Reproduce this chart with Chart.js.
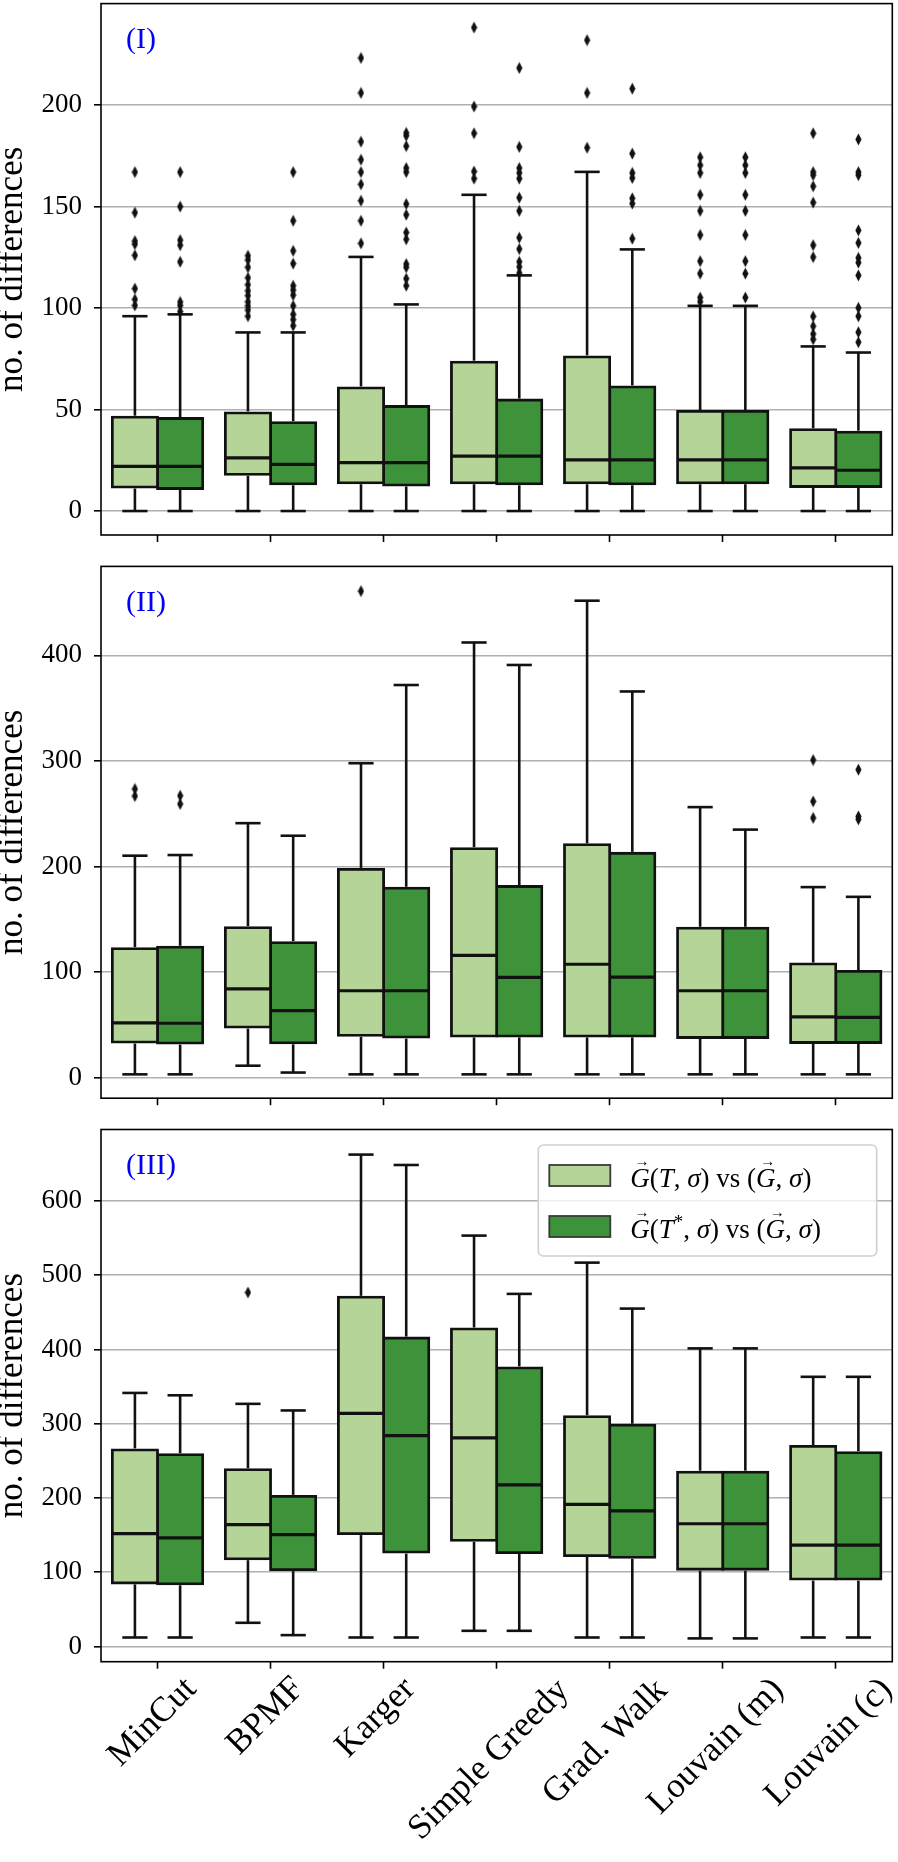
<!DOCTYPE html>
<html>
<head>
<meta charset="utf-8">
<title>no. of differences</title>
<script src="https://cdn.jsdelivr.net/npm/chart.js@4.4.0/dist/chart.umd.min.js"></script>
<style>
  html, body { margin: 0; padding: 0; background: #fff; }
  #wrap { position: relative; width: 898px; height: 1862px; overflow: hidden; }
  #wrap canvas { position: absolute; left: 0; }
</style>
</head>
<body>
<div id="wrap">
  <canvas id="panel-1" width="898" height="560" style="top:0px"></canvas>
  <canvas id="panel-2" width="898" height="560" style="top:560px"></canvas>
  <canvas id="panel-3" width="898" height="742" style="top:1120px"></canvas>
</div>
<script>
// --- DATA ---
const categories = ['MinCut', 'BPMF', 'Karger', 'Simple Greedy', 'Grad. Walk', 'Louvain (m)', 'Louvain (c)'];
const yTitle = 'no. of differences';

// box stats per category: [whisker low, q1, median, q3, whisker high]
const boxesI_T = [[0, 11.8, 22.0, 46.3, 96.0], [0, 18.1, 26.2, 48.4, 88], [0, 13.9, 23.9, 60.7, 125.2], [0, 13.9, 27.1, 73.4, 155.8], [0, 13.9, 25.2, 76.0, 167.1], [0, 13.9, 25.2, 49.1, 101.1], [0, 12.1, 21.3, 40.1, 81.1]];
const boxesI_Ts = [[0, 11.1, 22.0, 45.6, 96.9], [0, 13.4, 23.0, 43.6, 88], [0, 12.8, 23.9, 51.5, 101.8], [0, 13.4, 27.1, 54.7, 116.1], [0, 13.4, 25.2, 61.2, 128.9], [0, 13.9, 25.2, 49.1, 101.1], [0, 12.1, 20.1, 38.9, 78.1]];
const fliersI_T = [
    [167, 147, 133, 131.5, 126, 109.6, 104.3, 101.3],
    [125.8, 123.7, 120.1, 114.9, 111.5, 108.5, 106.1, 103.1, 101, 99, 96],
    [223.2, 206, 182, 173.1, 167, 161, 152.9, 143, 131.9],
    [238.2, 199.3, 186.1, 167.3, 163.8],
    [232, 206, 179],
    [174.3, 170.4, 166.6, 155.8, 147.9, 136, 123.1, 117, 105.2, 103.1],
    [186.1, 167, 165.5, 160, 152, 131, 125.1, 95.9, 91.1, 87.2, 84.6]
];
const fliersI_Ts = [
    [167, 150, 133.5, 131, 122.8, 103, 101.3, 98.3],
    [167, 143, 128.2, 121.9, 111, 108.9, 106.4, 101.1, 96.9, 94.3, 91.3],
    [186.3, 184.9, 179.8, 169, 167, 151.3, 146, 137.2, 133.9, 121.7, 120.1, 114.5, 111],
    [218.3, 179.4, 169, 166.6, 163.8, 154.4, 147.9, 134.7, 129.1, 122.8, 120.3, 117.3],
    [208.1, 176.1, 166.6, 164.1, 154.1, 151.5, 134.2],
    [174.3, 170.4, 166.6, 155.8, 147.9, 136, 123.1, 117, 105.2],
    [183.1, 167, 165.5, 138.3, 132.1, 124.7, 122.4, 116.1, 100.1, 96, 88.1, 83.2]
];
const yTicksI = [0, 50, 100, 150, 200];
const yRangeI = [-11.8, 250];

const boxesII_T = [[3, 33.5, 51.8, 122.2, 210.2], [11.2, 47.7, 83.9, 142.1, 241], [3, 39.9, 82.2, 197.3, 297.8], [3, 39.3, 115.7, 216.9, 412.2], [3, 39.3, 107.3, 220.6, 451.8], [3, 37.9, 82.2, 141.5, 256.2], [3, 33.2, 57.5, 107.6, 180.4]];
const boxesII_Ts = [[3, 32.5, 51.4, 123.5, 210.8], [4.7, 32.8, 63.3, 127.9, 229.1], [3, 38.2, 82.2, 179.4, 371.9], [3, 39.3, 94.8, 181, 390.9], [3, 39.3, 95.1, 212.5, 365.8], [3, 37.9, 82.2, 141.5, 234.9], [3, 33.2, 56.9, 100.5, 171.2]];
const fliersII_T = [[273.4, 266.7], [], [460.9], [], [], [], [300.8, 261.6, 246]];
const fliersII_Ts = [[267, 259.2], [], [], [], [], [], [291.7, 247.4, 244.7]];
const yTicksII = [0, 100, 200, 300, 400];
const yRangeII = [-19.6, 484.3];

const boxesIII_T = [[12.1, 85.5, 151.9, 264.9, 341.5], [31.9, 118.1, 164, 238.1, 326.8], [12.1, 151.9, 314, 470.4, 662.5], [21.1, 143, 280.9, 427.7, 553.4], [12.1, 122.5, 191.5, 309.6, 517], [10.9, 104, 165.3, 234.9, 401.5], [12.1, 90.6, 136.6, 269.4, 363.2]];
const boxesIII_Ts = [[12.1, 84.3, 146.2, 258.5, 338.3], [15.3, 103.4, 150.6, 202.3, 317.9], [12.1, 127, 284, 415.5, 648.5], [21.1, 126.4, 217.7, 375.3, 474.9], [12.1, 120, 182.6, 298.1, 455.1], [10.9, 104, 165.3, 234.9, 401.5], [12.1, 90.6, 136.6, 261.1, 363.2]];
const fliersIII_T = [[], [476.8], [], [], [], [], []];
const fliersIII_Ts = [[], [], [], [], [], [], []];
const yTicksIII = [0, 100, 200, 300, 400, 500, 600];
const yRangeIII = [-20.5, 696.3];

// --- STYLE ---
const LIGHT = '#b4d597';
const DARK = '#3e923a';
const EDGE = '#111111';
const FONT = "'Liberation Serif', 'DejaVu Serif', serif";

// thin diamond used for the fliers ('d' marker)
const diamond = document.createElement('canvas');
diamond.width = 7; diamond.height = 13;
(function () {
    const c = diamond.getContext('2d');
    c.fillStyle = '#111';
    c.beginPath();
    c.moveTo(3.5, 0.5); c.lineTo(6.6, 6.5); c.lineTo(3.5, 12.5); c.lineTo(0.4, 6.5);
    c.closePath(); c.fill();
})();

function line(ctx, x1, y1, x2, y2) {
    ctx.beginPath(); ctx.moveTo(x1, y1); ctx.lineTo(x2, y2); ctx.stroke();
}

// text runs for the math-ish legend entries; 'i' = italic, 'sup' = superscript, vec = arrow on top
function drawRuns(ctx, runs, x, baseline, size) {
    ctx.textBaseline = 'alphabetic';
    ctx.textAlign = 'left';
    runs.forEach(([txt, style, vec]) => {
        let y = baseline;
        if (style === 'sup') {
            ctx.font = `${Math.round(size * 0.7)}px ${FONT}`;
            y = baseline - size * 0.38;
        } else {
            ctx.font = `${style === 'i' ? 'italic ' : ''}${size}px ${FONT}`;
        }
        ctx.fillText(txt, x, y);
        const w = ctx.measureText(txt).width;
        if (vec) {
            ctx.save();
            ctx.font = `15px ${FONT}`;
            ctx.textAlign = 'center';
            ctx.textBaseline = 'middle';
            ctx.fillText('\u2192', x + w * 0.6, baseline - size * 0.93);
            ctx.restore();
        }
        x += w;
    });
}

const legendRows = [
    { color: LIGHT, runs: [['G', 'i', true], ['(', 'n'], ['T', 'i'], [', ', 'n'], ['\u03c3', 'i'], [') vs (', 'n'], ['G', 'i', true], [', ', 'n'], ['\u03c3', 'i'], [')', 'n']] },
    { color: DARK, runs: [['G', 'i', true], ['(', 'n'], ['T', 'i'], ['*', 'sup'], [', ', 'n'], ['\u03c3', 'i'], [') vs (', 'n'], ['G', 'i', true], [', ', 'n'], ['\u03c3', 'i'], [')', 'n']] }
];

// --- BOX PLOT PLUGIN (whiskers, caps, medians, fliers, frame, labels) ---
function boxPlugin(p) {
    return {
        id: 'boxparts',
        afterDatasetsDraw(chart) {
            const { ctx, chartArea: a } = chart;
            const y = chart.scales.y;
            ctx.save();
            ctx.strokeStyle = EDGE;
            [[p.light, p.lightFliers], [p.dark, p.darkFliers]].forEach(([stats, fliers], di) => {
                const meta = chart.getDatasetMeta(di);
                stats.forEach((s, i) => {
                    const bar = meta.data[i];
                    const x = bar.x, half = bar.width / 2;
                    const [lo, q1, med, q3, hi] = s.map(v => y.getPixelForValue(v));
                    ctx.lineWidth = 2.6; ctx.lineCap = 'butt';
                    line(ctx, x, q1 + 1.4, x, lo);
                    line(ctx, x, q3 - 1.4, x, hi);
                    ctx.lineCap = 'square';
                    line(ctx, x - half / 2, lo, x + half / 2, lo);
                    line(ctx, x - half / 2, hi, x + half / 2, hi);
                    ctx.lineWidth = 3.2; ctx.lineCap = 'butt';
                    line(ctx, x - half, med, x + half, med);
                    fliers[i].forEach(v => {
                        const fy = y.getPixelForValue(v);
                        ctx.drawImage(diamond, x - diamond.width / 2, fy - diamond.height / 2);
                    });
                });
            });
            // axes frame
            ctx.lineWidth = 1.6;
            ctx.strokeStyle = '#000';
            ctx.strokeRect(a.left, a.top, a.right - a.left, a.bottom - a.top);
            ctx.restore();
        },
        afterDraw(chart) {
            const { ctx, chartArea: a } = chart;
            ctx.save();
            // panel tag
            ctx.fillStyle = '#0000ff';
            ctx.font = `30px ${FONT}`;
            ctx.textBaseline = 'middle';
            ctx.textAlign = 'left';
            ctx.fillText(p.tag, a.left + 25, a.top + 37);

            // rotated category labels, bbox centred under the tick
            if (p.labels) {
                const xs = chart.scales.x;
                ctx.fillStyle = '#000';
                ctx.font = `35px ${FONT}`;
                categories.forEach((c, i) => {
                    const m = ctx.measureText(c);
                    const w = m.actualBoundingBoxLeft + m.actualBoundingBoxRight;
                    const h = m.actualBoundingBoxAscent + m.actualBoundingBoxDescent;
                    const cx = xs.getPixelForValue(i);
                    const cy = a.bottom + 18 + (w + h) * Math.SQRT1_2 / 2;
                    ctx.save();
                    ctx.translate(cx, cy);
                    ctx.rotate(-Math.PI / 4);
                    ctx.textAlign = 'left';
                    ctx.textBaseline = 'alphabetic';
                    ctx.fillText(c, -(m.actualBoundingBoxRight - m.actualBoundingBoxLeft) / 2,
                        (m.actualBoundingBoxAscent - m.actualBoundingBoxDescent) / 2);
                    ctx.restore();
                });
            }

            // legend box in the upper right
            if (p.legend) {
                const lx = a.right - 15.6 - 338.4, ly = a.top + 15.5, lw = 338.4, lh = 111;
                ctx.beginPath();
                ctx.roundRect(lx, ly, lw, lh, 5);
                ctx.fillStyle = 'rgba(255,255,255,0.8)';
                ctx.fill();
                ctx.lineWidth = 1.6;
                ctx.strokeStyle = '#d0d0d0';
                ctx.stroke();
                legendRows.forEach((r, k) => {
                    const cy = ly + 30.5 + k * 51;
                    ctx.fillStyle = r.color;
                    ctx.fillRect(lx + 11, cy - 10.5, 61, 21);
                    ctx.lineWidth = 1.8;
                    ctx.strokeStyle = '#3a3a3a';
                    ctx.strokeRect(lx + 11, cy - 10.5, 61, 21);
                    ctx.fillStyle = '#000';
                    drawRuns(ctx, r.runs, lx + 92, cy + 11.5, 27);
                });
            }
            ctx.restore();
        }
    };
}

// --- PANELS ---
const panels = [
    { id: 'panel-1', tag: '(I)', light: boxesI_T, dark: boxesI_Ts, lightFliers: fliersI_T, darkFliers: fliersI_Ts, ticks: yTicksI, range: yRangeI, top: 3.6, axisH: 25, labels: false, legend: false },
    { id: 'panel-2', tag: '(II)', light: boxesII_T, dark: boxesII_Ts, lightFliers: fliersII_T, darkFliers: fliersII_Ts, ticks: yTicksII, range: yRangeII, top: 6.4, axisH: 21.8, labels: false, legend: false },
    { id: 'panel-3', tag: '(III)', light: boxesIII_T, dark: boxesIII_Ts, lightFliers: fliersIII_T, darkFliers: fliersIII_Ts, ticks: yTicksIII, range: yRangeIII, top: 9.5, axisH: 200.3, labels: true, legend: true }
];

// border inflated by half its width so edges sit centred on the box bounds
function boxDataset(stats, color) {
    return {
        data: stats.map(s => [s[1], s[3]]),
        backgroundColor: color,
        borderColor: EDGE,
        borderWidth: 2.8,
        inflateAmount: 1.4,
        borderSkipped: false,
        categoryPercentage: 0.8,
        barPercentage: 1.0
    };
}

function buildPanel(p) {
    new Chart(document.getElementById(p.id), {
        type: 'bar',
        data: {
            labels: categories,
            datasets: [boxDataset(p.light, LIGHT), boxDataset(p.dark, DARK)]
        },
        options: {
            responsive: false,
            animation: false,
            devicePixelRatio: 1,
            events: [],
            layout: { padding: { top: p.top, right: 5.7, bottom: 0, left: 0 } },
            plugins: { legend: { display: false }, tooltip: { enabled: false } },
            scales: {
                x: {
                    type: 'category',
                    offset: true,
                    border: { display: false },
                    grid: { offset: false, drawOnChartArea: false, drawTicks: true, tickLength: 7, tickColor: '#000', tickWidth: 1.6 },
                    ticks: { display: false },
                    afterFit: s => { s.height = p.axisH; s.paddingLeft = 0; s.paddingRight = 0; }
                },
                y: {
                    min: p.range[0],
                    max: p.range[1],
                    border: { display: false },
                    grid: { color: '#b0b0b0', lineWidth: 1.6, tickLength: 7, tickColor: '#000', tickWidth: 1.6 },
                    ticks: { color: '#000', padding: 12, font: { family: FONT, size: 27 } },
                    title: { display: true, text: yTitle, color: '#000', padding: 0, font: { family: FONT, size: 35, lineHeight: 0.75 } },
                    afterBuildTicks: s => { s.ticks = p.ticks.map(v => ({ value: v })); },
                    afterFit: s => { s.width = 101; s.paddingTop = 0; s.paddingBottom = 0; }
                }
            }
        },
        plugins: [boxPlugin(p)]
    });
}

panels.forEach(buildPanel);
</script>
</body>
</html>
